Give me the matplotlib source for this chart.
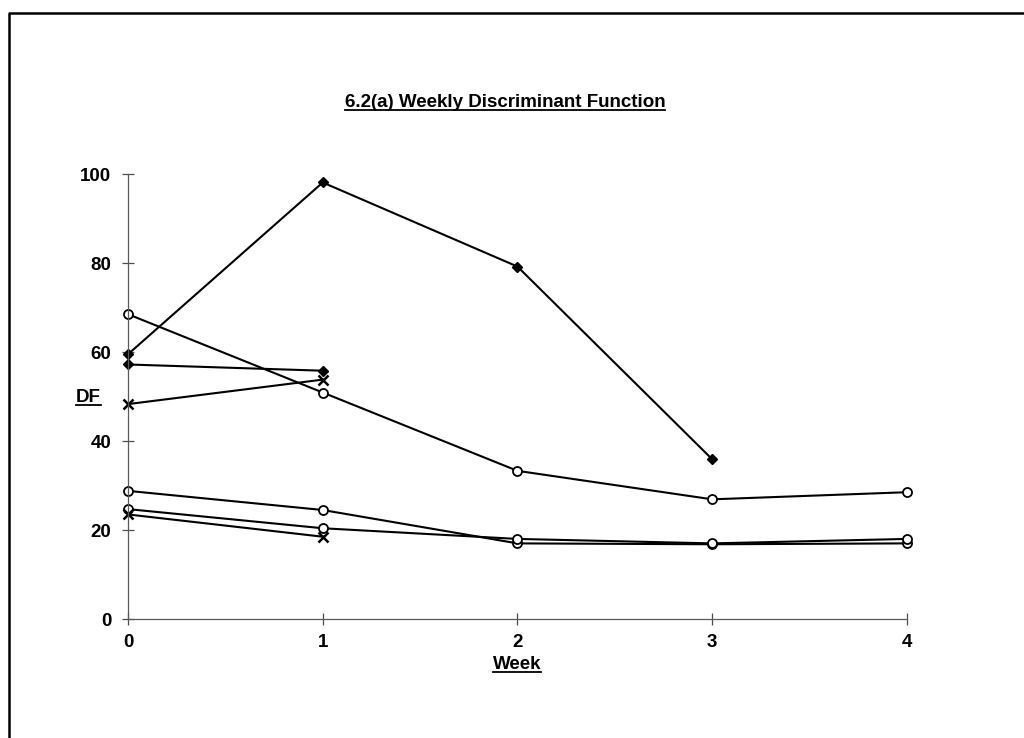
import matplotlib.pyplot as plt
from matplotlib.lines import Line2D

plt.rcParams['font.family'] = ['Liberation Sans', 'DejaVu Sans']

# Week numbers and DF values (one list per line)
weeks = [0, 1, 2, 3, 4]
df_diamond_a = [59.5, 98.1, 79.2, 35.9]
df_diamond_b = [57.2, 55.8]
df_cross_a = [48.3, 53.8]
df_circle_a = [68.5, 50.9, 33.3, 26.9, 28.5]
df_circle_b = [28.8, 24.5, 17.0, 16.8, 17.0]
df_circle_c = [24.7, 20.4, 18.0, 17.0, 18.0]
df_cross_b = [23.5, 18.5]

y_ticks = [0, 20, 40, 60, 80, 100]

fig = plt.figure(figsize=(10.24, 7.38), dpi=100)
ax = fig.add_axes([0.125, 0.1612, 0.7607, 0.6030])

line_kw = dict(color='black', linewidth=1.5, clip_on=False)

# filled diamonds
for vals in (df_diamond_a, df_diamond_b):
    ax.plot(weeks[:len(vals)], vals, marker='D', markersize=5.5,
            markerfacecolor='black', markeredgecolor='black', **line_kw)

# open circles
for vals in (df_circle_a, df_circle_b, df_circle_c):
    ax.plot(weeks[:len(vals)], vals, marker='o', markersize=6.5,
            markerfacecolor='white', markeredgecolor='black',
            markeredgewidth=1.3, **line_kw)

# crosses
for vals in (df_cross_a, df_cross_b):
    ax.plot(weeks[:len(vals)], vals, marker='x', markersize=6.5,
            markeredgewidth=1.8, **line_kw)

ax.set_xlim(0, 4)
ax.set_ylim(0, 100)
ax.set_xticks(weeks)
ax.set_yticks(y_ticks)
ax.spines['top'].set_visible(False)
ax.spines['right'].set_visible(False)
for side in ('left', 'bottom'):
    ax.spines[side].set_linewidth(0.9)
    ax.spines[side].set_color('0.35')
ax.tick_params(direction='inout', length=8, width=0.9, color='0.3',
               labelsize=13.5)
for lab in ax.get_xticklabels() + ax.get_yticklabels():
    lab.set_fontweight('bold')
ax.tick_params(axis='x', pad=7)
ax.tick_params(axis='y', pad=8)

title = fig.text(0.493, 0.861, '6.2(a) Weekly Discriminant Function',
                 ha='center', va='center', fontsize=13.5, fontweight='bold')
ylab = fig.text(0.086, 0.462, 'DF', ha='center', va='center',
                fontsize=13.5, fontweight='bold')
xlab = fig.text(0.505, 0.100, 'Week', ha='center', va='center',
                fontsize=13.5, fontweight='bold')

# underline the titles the way the original does
fig.canvas.draw()
renderer = fig.canvas.get_renderer()
W, H = fig.bbox.width, fig.bbox.height
for t in (title, ylab, xlab):
    bb = t.get_window_extent(renderer)
    yy = (bb.y0 + 1) / H
    fig.add_artist(Line2D([bb.x0 / W, bb.x1 / W], [yy, yy],
                          color='black', linewidth=1.3))

# outer frame of the chart area
fig.add_artist(Line2D([8.5 / W, 8.5 / W, 1.0], [0.0, 1 - 12.5 / H, 1 - 12.5 / H],
                      color='black', linewidth=1.8))

fig.savefig('out.png', dpi=100)
